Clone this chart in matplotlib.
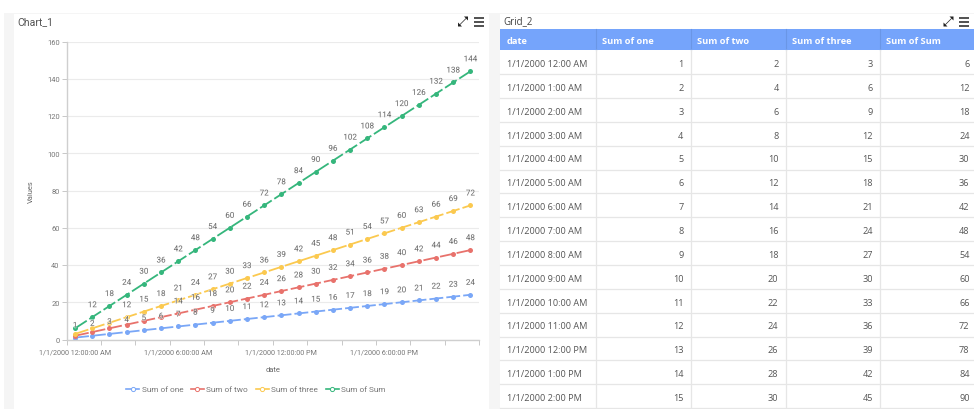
import matplotlib
matplotlib.use("Agg")
import matplotlib.pyplot as plt
import matplotlib.patheffects as pe
from matplotlib.lines import Line2D
from matplotlib.patches import Rectangle, Polygon

plt.rcParams['font.family'] = ['Roboto', 'DejaVu Sans']

W, H = 974, 410

# ---------- data ----------
sum_one = [1, 2, 3, 4, 5, 6, 7, 8, 9, 10, 11, 12, 13, 14, 15, 16, 17, 18, 19, 20, 21, 22, 23, 24]
sum_two = [2, 4, 6, 8, 10, 12, 14, 16, 18, 20, 22, 24, 26, 28, 30, 32, 34, 36, 38, 40, 42, 44, 46, 48]
sum_three = [3, 6, 9, 12, 15, 18, 21, 24, 27, 30, 33, 36, 39, 42, 45, 48, 51, 54, 57, 60, 63, 66, 69, 72]
sum_sum = [6, 12, 18, 24, 30, 36, 42, 48, 54, 60, 66, 72, 78, 84, 90, 96, 102, 108, 114, 120, 126, 132, 138, 144]
series_names = ["Sum of one", "Sum of two", "Sum of three", "Sum of Sum"]
series_colors = ["#7aa7f7", "#e8726c", "#fbc94f", "#35b67c"]
first_label = [0, 6, 3, 1]  # labels before this index are hidden by the chart's overlap rule
x_tick_labels = ["1/1/2000 12:00:00 AM", "1/1/2000 6:00:00 AM",
                 "1/1/2000 12:00:00 PM", "1/1/2000 6:00:00 PM"]
x_tick_index = [0, 6, 12, 18]
y_ticks = [0, 20, 40, 60, 80, 100, 120, 140, 160]
grid_headers = ["date", "Sum of one", "Sum of two", "Sum of three", "Sum of Sum"]
grid_dates = ["1/1/2000 12:00 AM", "1/1/2000 1:00 AM", "1/1/2000 2:00 AM", "1/1/2000 3:00 AM",
              "1/1/2000 4:00 AM", "1/1/2000 5:00 AM", "1/1/2000 6:00 AM", "1/1/2000 7:00 AM",
              "1/1/2000 8:00 AM", "1/1/2000 9:00 AM", "1/1/2000 10:00 AM", "1/1/2000 11:00 AM",
              "1/1/2000 12:00 PM", "1/1/2000 1:00 PM", "1/1/2000 2:00 PM"]

fig = plt.figure(figsize=(W / 100, H / 100), dpi=100, facecolor="white")

# ---------- page overlay in pixel coordinates ----------
page = fig.add_axes([0, 0, 1, 1], zorder=0)
page.set_xlim(0, W)
page.set_ylim(H, 0)
page.axis("off")
page.add_patch(Rectangle((4, 14), W - 4, H - 14, fc="#f5f5f5", ec="none"))
page.add_patch(Rectangle((14, 15), 475, H - 15, fc="white", ec="none"))
page.add_patch(Rectangle((500, 15), 474, H - 15, fc="white", ec="none"))
page.text(17.5, 22, "Chart_1", fontsize=7.6, color="#555555", va="center", ha="left")
page.text(503, 22, "Grid_2", fontsize=7.0, color="#444444", va="center", ha="left",
          family=["Open Sans", "DejaVu Sans"])


def icons(x_exp, x_menu, y):
    for dy in (-4, 0, 4):
        page.plot([x_menu, x_menu + 10], [y + dy, y + dy], color="#222222", lw=1.1,
                  solid_capstyle="butt")
    page.plot([x_exp + 2, x_exp + 8], [y + 3, y - 3], color="#222222", lw=0.5)
    page.add_patch(Polygon([[x_exp, y + 5], [x_exp + 4, y + 5], [x_exp, y + 1]], fc="#222222", ec="none"))
    page.add_patch(Polygon([[x_exp + 10, y - 5], [x_exp + 6, y - 5], [x_exp + 10, y - 1]], fc="#222222", ec="none"))


icons(458, 473.5, 22.5)
icons(943.5, 959, 22.5)

# ---------- table ----------
col_edges = [500, 595.5, 690.5, 785.5, 880, 974]
top, header_bottom, row_h = 29.5, 51.3, 23.85
page.add_patch(Rectangle((500, top), 474, header_bottom - top, fc="#75a4fb", ec="none"))
for e in col_edges[1:-1]:
    page.plot([e, e], [top, header_bottom], color="#6a96e6", lw=0.8)
for h, e in zip(grid_headers, col_edges):
    page.text(e + 6.5, 41.5, h, color="white", fontsize=6.7, fontweight="bold", va="center", ha="left",
              family=["Open Sans", "DejaVu Sans"])
rows = list(zip(grid_dates, sum_one, sum_two, sum_three, sum_sum))
for r, row in enumerate(rows):
    cy = header_bottom + row_h * (r + 0.5) + 1.3
    page.plot([500, 974], [header_bottom + row_h * (r + 1)] * 2, color="#e6e6e6", lw=0.9)
    page.text(507, cy, row[0], fontsize=6.6, color="#555555", va="center", ha="left",
              family=["Open Sans", "DejaVu Sans"])
    for c, v in enumerate(row[1:], start=1):
        page.text(col_edges[c + 1] - 4.5 if c == 4 else col_edges[c + 1] - 7, cy, str(v), fontsize=6.6,
                  color="#555555", va="center", ha="right", family=["Open Sans", "DejaVu Sans"])
for e in col_edges[1:-1]:
    page.plot([e, e], [header_bottom, H], color="#e6e6e6", lw=0.9)

# ---------- chart ----------
L, R, T, B = 66.5, 479, 42.5, 340.5
ax = fig.add_axes([L / W, 1 - B / H, (R - L) / W, (B - T) / H], zorder=1)
ax.patch.set_alpha(0)
x = list(range(len(sum_one)))
ax.set_xlim(-0.5, len(x) - 0.5)
ax.set_ylim(0, 160)
ax.set_yticks(y_ticks)
ax.set_yticklabels([str(v) for v in y_ticks])
ax.set_xticks(x_tick_index)
ax.set_xticklabels(x_tick_labels)
ax.set_xticks([i - 0.5 for i in range(0, 25, 2)], minor=True)
ax.tick_params(axis="x", which="major", length=0, labelsize=5.25, labelcolor="#777777", pad=6.2)
ax.tick_params(axis="x", which="minor", length=3.5, width=0.7, color="#c8c8c8")
ax.tick_params(axis="y", length=3.5, width=0.7, color="#c8c8c8", labelsize=5.4, labelcolor="#777777", pad=1.5)
ax.grid(axis="y", color="#ebebeb", lw=0.8)
ax.set_axisbelow(True)
for s in ("top", "right"):
    ax.spines[s].set_visible(False)
for s in ("left", "bottom"):
    ax.spines[s].set_color("#cfcfcf")
    ax.spines[s].set_linewidth(1.0)
ax.set_xlabel("date", fontsize=5.4, color="#666666", labelpad=8)
ax.set_ylabel("Values", fontsize=5.4, color="#666666", labelpad=8.5)

all_series = [sum_one, sum_two, sum_three, sum_sum]
for vals, col in zip(all_series, series_colors):
    ax.plot(x, vals, color=col, lw=1.3, dashes=(7.7, 1.7), marker="o", ms=3.6,
            mfc=col, mec=col, mew=0, clip_on=False)
for vals, col, start in zip(all_series, series_colors, first_label):
    for i in range(start, len(vals)):
        ax.annotate(str(vals[i]), (x[i], vals[i]), xytext=(0, 8.6), textcoords="offset points",
                    ha="center", va="center", fontsize=5.8, color="#707070", annotation_clip=False,
                    path_effects=[pe.withStroke(linewidth=1.0, foreground="white", alpha=0.6)])

handles = [Line2D([0], [0], color=c, lw=1.2, marker="o", ms=3.0, mfc="white", mec=c, mew=0.7)
           for c in series_colors]
fig.legend(handles, series_names, loc="center", bbox_to_anchor=(256 / W, 1 - 390 / H), ncol=4,
           frameon=False, fontsize=5.95, labelcolor="#777777", handlelength=1.55, handletextpad=0.3,
           columnspacing=0.95, borderpad=0, borderaxespad=0)

fig.savefig("out.png", dpi=100)
